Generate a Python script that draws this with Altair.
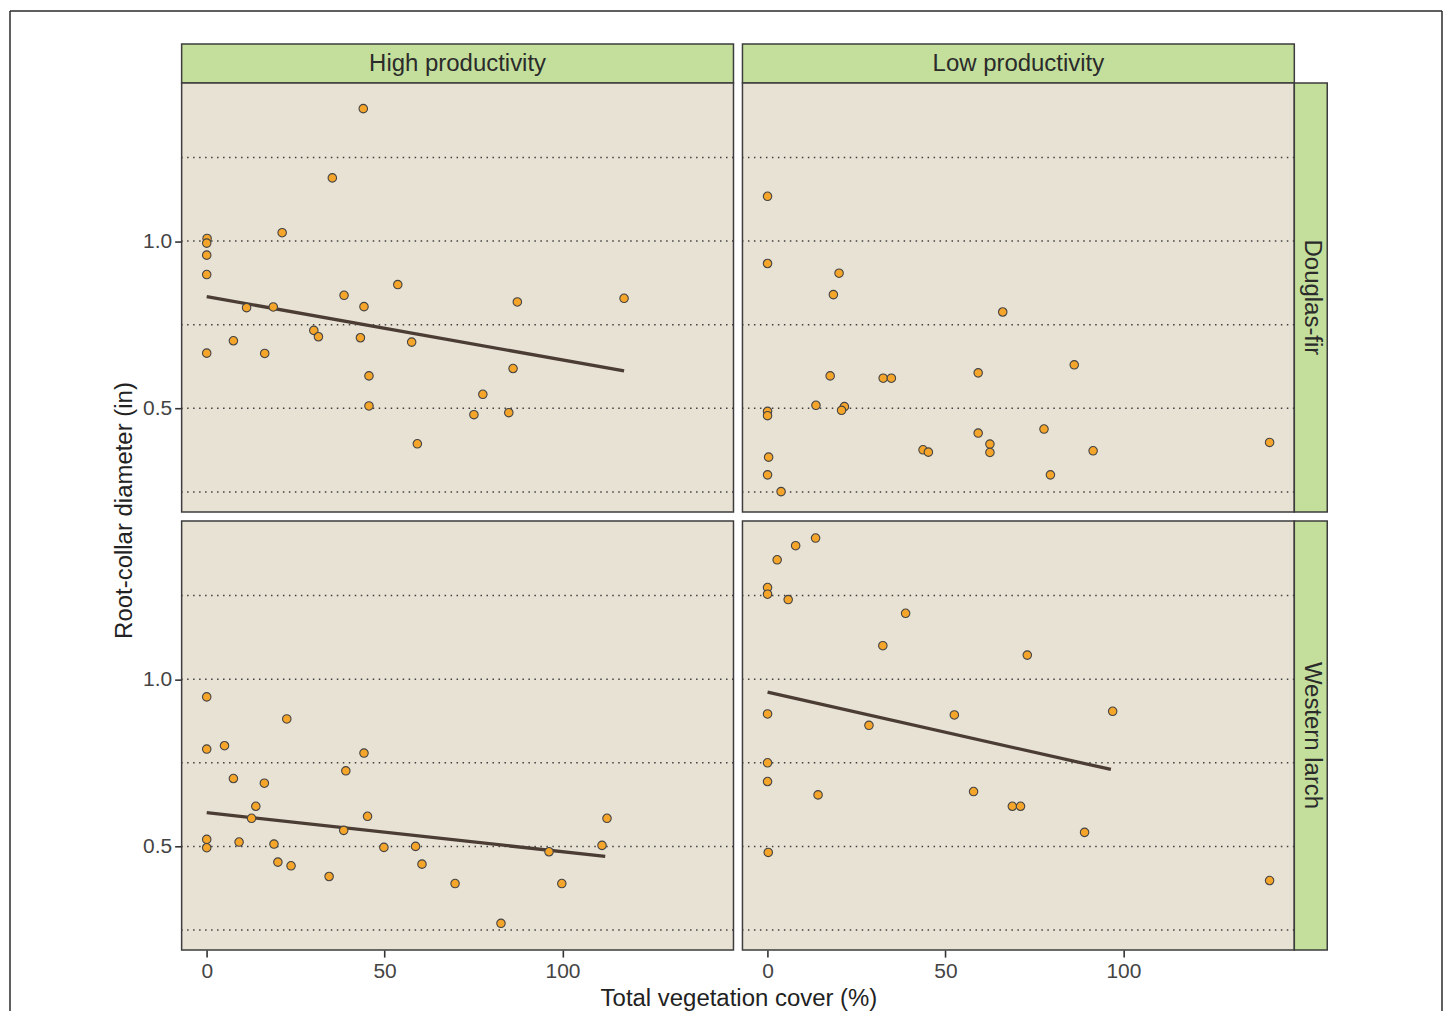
import altair as alt
import pandas as pd

FONT = "Liberation Sans"
PANEL_BG = "#E8E2D4"
STRIP_BG = "#C4DF9C"
BORDER = "#3d3d3d"
POINT_FILL = "#F6A52B"
POINT_STROKE = "#444444"
LINE_COLOR = "#4b3d34"
FRAME_COLOR = "#2a2a2a"

PANEL_W, PANEL_H = 553, 430
STRIP_H, STRIP_W = 39, 33
GAP = 9

# outer figure frame, relative to the first strip's origin
FRAME_LEFT, FRAME_RIGHT, FRAME_TOP, FRAME_BOTTOM = -172, 1263, -33, 969

X_DOMAIN = [-7.05, 148.05]
Y_DOMAIN = [0.19, 1.473]
GRID_VALUES = [0.25, 0.5, 0.75, 1.0, 1.25]
Y_TICKS = [0.5, 1.0]
X_TICKS = [0, 50, 100]

col_labels = ["High productivity", "Low productivity"]
row_labels = ["Douglas-fir", "Western larch"]
x_title = "Total vegetation cover (%)"
y_title = "Root-collar diameter (in)"

# Douglas-fir, High productivity
df_high_x = [44.0, 35.3, 21.2, 0.1, 0.0, 0.0, 0.0, 0.0, 53.7, 38.6, 11.2, 18.7, 44.2, 87.3,
             117.3, 7.5, 16.3, 30.1, 31.4, 43.2, 57.6, 45.6, 45.6, 86.1, 77.6, 75.1, 84.9, 59.2]
df_high_y = [1.396, 1.189, 1.025, 1.008, 0.994, 0.958, 0.900, 0.665, 0.870, 0.838, 0.801, 0.803,
             0.804, 0.818, 0.829, 0.702, 0.664, 0.733, 0.714, 0.711, 0.698, 0.597, 0.507, 0.619,
             0.542, 0.481, 0.487, 0.394]
df_high_line_x = [0.0, 117.3]
df_high_line_y = [0.834, 0.612]

# Douglas-fir, Low productivity
df_low_x = [0.0, 0.0, 20.1, 18.5, 66.1, 17.6, 32.5, 34.8, 59.2, 86.2, 0.0, 0.0, 13.6, 21.6,
            20.8, 59.2, 77.7, 62.5, 62.5, 43.7, 45.2, 91.5, 141.1, 0.3, 0.0, 79.5, 3.8]
df_low_y = [1.134, 0.933, 0.904, 0.840, 0.788, 0.597, 0.590, 0.590, 0.606, 0.630, 0.491, 0.478,
            0.509, 0.505, 0.494, 0.426, 0.438, 0.393, 0.368, 0.376, 0.369, 0.373, 0.398, 0.354,
            0.301, 0.301, 0.251]

# Western larch, High productivity
wl_high_x = [0.0, 22.5, 0.0, 5.0, 44.2, 7.5, 16.2, 39.1, 13.8, 12.6, 45.2, 38.5, 0.0, 0.0,
             9.1, 18.9, 20.0, 23.7, 34.4, 49.8, 58.7, 60.5, 69.8, 82.7, 96.2, 99.8, 111.1, 112.5]
wl_high_y = [0.947, 0.881, 0.791, 0.801, 0.779, 0.703, 0.689, 0.726, 0.620, 0.584, 0.590, 0.548,
             0.521, 0.496, 0.513, 0.507, 0.453, 0.442, 0.410, 0.497, 0.500, 0.447, 0.389, 0.270,
             0.484, 0.389, 0.503, 0.584]
wl_high_line_x = [0.0, 112.0]
wl_high_line_y = [0.601, 0.470]

# Western larch, Low productivity
wl_low_x = [13.5, 7.9, 2.7, 0.0, 0.0, 5.8, 38.8, 32.4, 73.0, 0.0, 52.5, 97.0, 28.5, 0.0, 0.0,
            14.2, 57.9, 68.8, 71.1, 89.1, 0.2, 141.1]
wl_low_y = [1.422, 1.399, 1.357, 1.274, 1.254, 1.238, 1.197, 1.100, 1.072, 0.896, 0.893, 0.904,
            0.862, 0.750, 0.694, 0.654, 0.664, 0.620, 0.620, 0.542, 0.482, 0.398]
wl_low_line_x = [0.0, 96.5]
wl_low_line_y = [0.961, 0.730]


def xscale():
    return alt.Scale(domain=X_DOMAIN, nice=False, zero=False)


def yscale():
    return alt.Scale(domain=Y_DOMAIN, nice=False, zero=False)


def make_xaxis(show, with_title):
    if not show:
        return None
    kw = dict(values=X_TICKS, grid=False, domain=False, ticks=True, tickSize=7,
              tickWidth=1.6, tickColor="#333333", labelFontSize=21,
              labelColor="#444444", labelPadding=3, labelFont=FONT)
    if with_title:
        kw.update(title=x_title, titleFontSize=24, titleFontWeight="normal",
                  titleColor="#222222", titlePadding=6, titleFont=FONT, titleX=558)
    else:
        kw.update(title=None)
    return alt.Axis(**kw)


def make_yaxis(show, with_title):
    if not show:
        return None
    kw = dict(values=Y_TICKS, format=".1f", grid=False, domain=False, ticks=True,
              tickSize=7, tickWidth=1.6, tickColor="#333333", labelFontSize=21,
              labelColor="#444444", labelPadding=3, labelFont=FONT)
    if with_title:
        kw.update(title=y_title, titleFontSize=24, titleFontWeight="normal",
                  titleColor="#222222", titlePadding=6, titleFont=FONT, titleY=428)
    else:
        kw.update(title=None)
    return alt.Axis(**kw)


def panel(xs, ys, line_x=None, line_y=None, show_x=False, show_y=False,
          with_y_title=False, with_x_title=False):
    xaxis = make_xaxis(show_x, with_x_title)
    yaxis = make_yaxis(show_y, with_y_title)

    grid = alt.Chart(pd.DataFrame({"g": GRID_VALUES})).mark_rule(
        strokeDash=[1.5, 4.5], color="#3f3f3f", strokeWidth=1.5
    ).encode(y=alt.Y("g:Q", scale=yscale(), axis=yaxis))

    layers = [grid]
    if line_x is not None:
        line = alt.Chart(pd.DataFrame({"x": line_x, "y": line_y})).mark_line(
            color=LINE_COLOR, strokeWidth=3.3
        ).encode(
            x=alt.X("x:Q", scale=xscale(), axis=xaxis),
            y=alt.Y("y:Q", scale=yscale(), axis=yaxis),
        )
        layers.append(line)

    pts = alt.Chart(pd.DataFrame({"x": xs, "y": ys})).mark_circle(
        size=72, fill=POINT_FILL, stroke=POINT_STROKE, strokeWidth=1.1, opacity=1
    ).encode(
        x=alt.X("x:Q", scale=xscale(), axis=xaxis),
        y=alt.Y("y:Q", scale=yscale(), axis=yaxis),
    )
    layers.append(pts)

    return alt.layer(*layers).properties(
        width=PANEL_W, height=PANEL_H,
        view=alt.ViewBackground(fill=PANEL_BG, stroke=BORDER, strokeWidth=1.5),
    )


def hstrip_text(label):
    return alt.Chart(pd.DataFrame({"label": [label]})).mark_text(
        fontSize=24, color="#2b2b2b", font=FONT
    ).encode(
        x=alt.value(PANEL_W / 2), y=alt.value(STRIP_H / 2 + 1), text="label:N"
    )


def hstrip(label):
    return hstrip_text(label).properties(
        width=PANEL_W, height=STRIP_H,
        view=alt.ViewBackground(fill=STRIP_BG, stroke=BORDER, strokeWidth=1.5),
    )


def frame_rule(x, x2, y, y2):
    return alt.Chart(pd.DataFrame({"f": [0]})).mark_rule(
        color=FRAME_COLOR, strokeWidth=1.5
    ).encode(x=alt.value(x), x2=alt.value(x2), y=alt.value(y), y2=alt.value(y2))


def hstrip_with_frame(label):
    return alt.layer(
        frame_rule(FRAME_LEFT, FRAME_LEFT, FRAME_TOP, FRAME_BOTTOM),
        frame_rule(FRAME_LEFT, FRAME_RIGHT, FRAME_TOP, FRAME_TOP),
        frame_rule(FRAME_RIGHT, FRAME_RIGHT, FRAME_TOP, FRAME_BOTTOM),
        hstrip_text(label),
    ).properties(
        width=PANEL_W, height=STRIP_H,
        view=alt.ViewBackground(fill=STRIP_BG, stroke=BORDER, strokeWidth=1.5),
    )


def vstrip(label):
    return alt.Chart(pd.DataFrame({"label": [label]})).mark_text(
        fontSize=24, color="#2b2b2b", font=FONT, angle=90
    ).encode(
        x=alt.value(STRIP_W / 2 + 1), y=alt.value(PANEL_H / 2), text="label:N"
    ).properties(
        width=STRIP_W, height=PANEL_H,
        view=alt.ViewBackground(fill=STRIP_BG, stroke=BORDER, strokeWidth=1.5),
    )


def spacer(w, h):
    return alt.Chart(pd.DataFrame({"s": [0]})).mark_point(opacity=0).encode(
        x=alt.value(0), y=alt.value(0)
    ).properties(width=w, height=h)


tl = panel(df_high_x, df_high_y, df_high_line_x, df_high_line_y,
           show_y=True, with_y_title=True)
tr = panel(df_low_x, df_low_y)
bl = panel(wl_high_x, wl_high_y, wl_high_line_x, wl_high_line_y,
           show_x=True, show_y=True, with_x_title=True)
br = panel(wl_low_x, wl_low_y, wl_low_line_x, wl_low_line_y, show_x=True)

cells = [
    hstrip_with_frame(col_labels[0]), spacer(GAP, STRIP_H), hstrip(col_labels[1]),
    spacer(STRIP_W, STRIP_H),
    tl, spacer(GAP, PANEL_H), tr, vstrip(row_labels[0]),
    spacer(PANEL_W, GAP), spacer(GAP, GAP), spacer(PANEL_W, GAP), spacer(STRIP_W, GAP),
    bl, spacer(GAP, PANEL_H), br, vstrip(row_labels[1]),
]

chart = alt.concat(
    *cells, columns=4, spacing=0, align="each", bounds="flush"
).properties(
    padding={"left": 0, "top": 0, "right": 0, "bottom": 0}
).configure(font=FONT).configure_view(strokeWidth=0)

chart.save("out.html", embed_options={"renderer": "svg", "actions": False})
